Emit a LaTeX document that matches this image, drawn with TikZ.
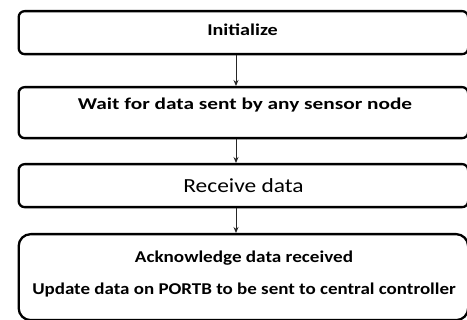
\documentclass[tikz,border=0pt]{standalone}
\usepackage{fontspec}
\setmainfont{Carlito}
\usetikzlibrary{arrows.meta}
\newcommand{\wide}[2]{\scalebox{#1}[1]{#2}}
\tikzset{
  stepbox/.style={draw=black, line width=2.3pt, rounded corners=6pt,
    minimum width=449.5pt, inner sep=0pt, anchor=north west},
  txt/.style={anchor=base, inner sep=0pt, font=\bfseries\fontsize{16.5}{18}\selectfont},
  flow/.style={draw=black!85, line width=0.9pt, -{Stealth[length=6pt,width=5pt]}}
}
\begin{document}
\begin{tikzpicture}[x=1pt,y=-1pt]
  \useasboundingbox (0,0) rectangle (467,320);
  % process boxes
  \node[stepbox, minimum height=43pt] (b1) at (17.5,10) {};
  \node[stepbox, minimum height=51pt] (b2) at (17.5,86) {};
  \node[stepbox, minimum height=43pt] (b3) at (17.5,163) {};
  \node[stepbox, minimum height=86pt, rounded corners=12pt] (b4) at (17.5,233) {};
  % box texts
  \node[txt] (t1) at (242.5,36) {\wide{1.22}{Initialize}};
  \node[txt] (t2) at (245,110) {\wide{1.29}{Wait for data sent by any sensor node}};
  \node[txt, font=\fontsize{20}{22}\selectfont] (t3) at (243.5,193) {\wide{1.17}{Receive data}};
  \node[txt] (t4) at (244,262.3) {\wide{1.16}{Acknowledge data received}};
  \node[txt] (t5) at (244,295) {\wide{1.15}{Update data on PORTB to be sent to central controller}};
  % arrows between boxes
  \coordinate (ax) at (236,0);
  \draw[flow] (b1.south -| ax) -- (b2.north -| ax);
  \draw[flow] (b2.south -| ax) -- (b3.north -| ax);
  \draw[flow] (b3.south -| ax) -- (b4.north -| ax);
\end{tikzpicture}
\end{document}
